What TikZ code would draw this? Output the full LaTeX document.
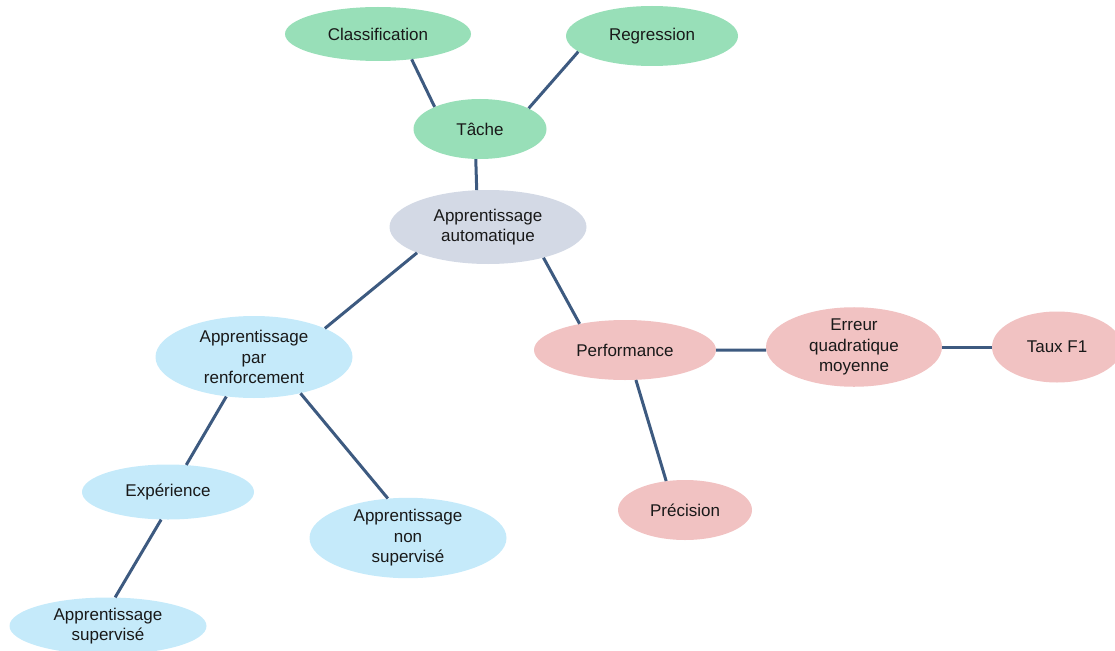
\documentclass[tikz,border=0pt]{standalone}
\usepackage{fontspec}
\setmainfont{Liberation Sans}
\usetikzlibrary{shapes.geometric}
\definecolor{tachegreen}{HTML}{98DFB8}
\definecolor{rootgrey}{HTML}{D3D9E5}
\definecolor{learnblue}{HTML}{C5EAFA}
\definecolor{perfpink}{HTML}{F1C2C2}
\definecolor{linkblue}{HTML}{3D5A80}
\begin{document}
\begin{tikzpicture}[x=1pt,y=-1pt,
  bubble/.style={ellipse,inner sep=0pt,align=center,text=black!90,
    font=\fontsize{17}{20.5}\selectfont},
  green/.style={bubble,fill=tachegreen},
  grey/.style={bubble,fill=rootgrey},
  blue/.style={bubble,fill=learnblue},
  pink/.style={bubble,fill=perfpink},
  link/.style={draw=linkblue,line width=3pt}]
  \useasboundingbox (0,0) rectangle (1115,650);
  \node[green,minimum width=186,minimum height=54] (cls) at (378,34) {Classification};
  \node[green,minimum width=172,minimum height=60] (reg) at (652,36) {Regression};
  \node[green,minimum width=133,minimum height=60] (tache) at (480,129) {Tâche};
  \node[grey,minimum width=197,minimum height=74] (aa) at (488,227) {Apprentissage\\automatique};
  \node[blue,minimum width=197,minimum height=82] (renf) at (254,357) {Apprentissage\\par\\renforcement};
  \node[blue,minimum width=172,minimum height=55] (exp) at (168,492) {Expérience};
  \node[blue,minimum width=197,minimum height=78] (nonsup) at (408,538) {Apprentissage\\non\\supervisé};
  \node[blue,minimum width=197,minimum height=57] (sup) at (108,626) {Apprentissage\\supervisé};
  \node[pink,minimum width=182,minimum height=60] (perf) at (625,350) {Performance};
  \node[pink,minimum width=176,minimum height=72] (erreur) at (854,347) {Erreur\\quadratique\\moyenne};
  \node[pink,minimum width=130,minimum height=71] (taux) at (1057,347) {Taux F1};
  \node[pink,minimum width=134,minimum height=60] (prec) at (685,510) {Précision};
  \draw[link] (cls.-37) -- (tache.154);
  \draw[link] (reg.-168) -- (tache.23);
  \draw[link] (tache.-98) -- (aa.107);
  \draw[link] (aa.-160) -- (renf.22);
  \draw[link] (aa.-29) -- (perf.150);
  \draw[link] (renf.-125) -- (exp.56);
  \draw[link] (renf.-38) -- (nonsup.117);
  \draw[link] (exp.-104) -- (sup.76);
  \draw[link] (perf.0) -- (erreur.182);
  \draw[link] (erreur.0) -- (taux.180);
  \draw[link] (perf.-70) -- (prec.123);
\end{tikzpicture}
\end{document}
